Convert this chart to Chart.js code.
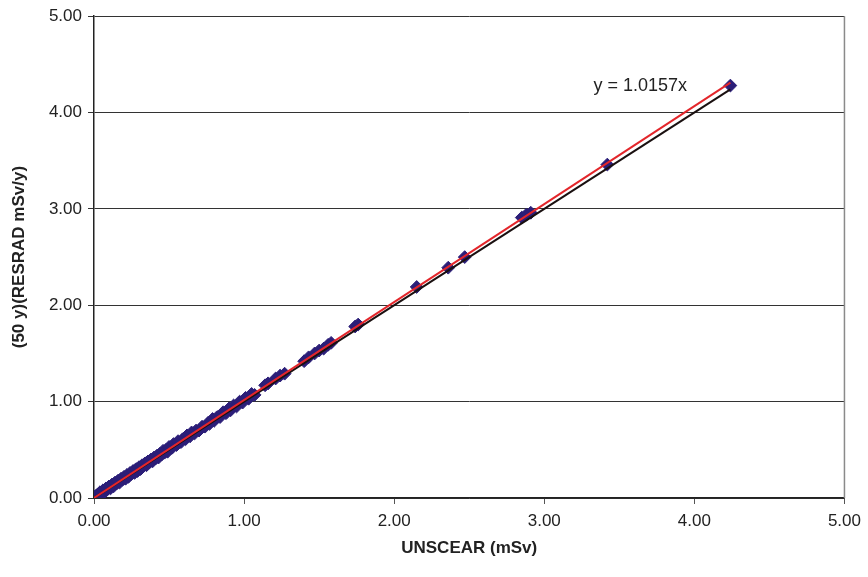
<!DOCTYPE html>
<html>
<head>
<meta charset="utf-8">
<script src="https://cdn.jsdelivr.net/npm/chart.js@4.4.0/dist/chart.umd.min.js"></script>
<style>
html,body{margin:0;padding:0;background:#fff;}
#wrap{width:868px;height:577px;}
</style>
</head>
<body>
<div id="wrap"><canvas id="c" width="868" height="577"></canvas></div>
<script>
// Scatter data (UNSCEAR vs RESRAD)
const unscear = [0.00,0.01,0.01,0.02,0.02,0.03,0.04,0.04,0.05,0.06,0.07,0.08,0.09,0.10,0.11,0.12,0.13,0.14,0.15,0.16,0.17,0.18,0.19,0.20,0.21,0.22,0.23,0.24,0.25,0.26,0.27,0.28,0.29,0.30,0.31,0.32,0.33,0.34,0.35,0.36,0.37,0.38,0.39,0.40,0.41,0.42,0.43,0.44,0.45,0.46,0.47,0.48,0.49,0.50,0.52,0.53,0.55,0.56,0.58,0.59,0.61,0.62,0.64,0.65,0.67,0.68,0.70,0.72,0.74,0.76,0.77,0.79,0.80,0.82,0.84,0.86,0.88,0.90,0.91,0.93,0.95,0.97,0.99,1.01,1.03,1.05,1.07,1.14,1.16,1.21,1.24,1.27,1.40,1.43,1.47,1.50,1.53,1.56,1.58,1.74,1.76,2.15,2.36,2.47,2.85,2.88,2.91,3.42,4.24];
const resrad  = [0.00,0.02,0.00,0.03,0.01,0.04,0.03,0.06,0.05,0.08,0.06,0.10,0.09,0.12,0.10,0.14,0.12,0.16,0.15,0.18,0.16,0.20,0.19,0.22,0.20,0.24,0.22,0.26,0.25,0.28,0.26,0.30,0.28,0.32,0.30,0.34,0.33,0.36,0.34,0.38,0.37,0.40,0.38,0.42,0.41,0.44,0.42,0.46,0.45,0.49,0.47,0.50,0.48,0.53,0.52,0.56,0.55,0.59,0.58,0.61,0.61,0.65,0.64,0.68,0.67,0.70,0.70,0.74,0.74,0.78,0.77,0.82,0.80,0.84,0.84,0.89,0.88,0.93,0.91,0.96,0.95,1.00,0.99,1.04,1.03,1.08,1.07,1.17,1.19,1.24,1.27,1.29,1.42,1.46,1.50,1.53,1.55,1.59,1.61,1.78,1.80,2.19,2.39,2.50,2.91,2.94,2.96,3.46,4.28];
// Trend line y = 1.0157x (end points)
const trendX = [0, 4.24];
const trendY = [0, 4.31];
// 1:1 line (end points)
const unityX = [0, 4.24];
const unityY = [0, 4.24];
// Axis ticks
const tickValues = [0, 1, 2, 3, 4, 5];
const equationLabel = 'y = 1.0157x';
const xTitle = 'UNSCEAR (mSv)';
const yTitle = '(50 y)(RESRAD mSv/y)';

const pts = unscear.map((x, i) => ({x: x, y: resrad[i]}));
const trend = trendX.map((x, i) => ({x: x, y: trendY[i]}));
const unity = unityX.map((x, i) => ({x: x, y: unityY[i]}));

const FONT = 'Liberation Sans, Arial, sans-serif';

const extras = {
  id: 'extras',
  afterDraw(chart) {
    const ctx = chart.ctx, a = chart.chartArea;
    const xs = chart.scales.x, ys = chart.scales.y;
    ctx.save();
    // right border
    ctx.strokeStyle = '#8a8a8a';
    ctx.lineWidth = 1.5;
    ctx.beginPath();
    ctx.moveTo(a.right, a.top);
    ctx.lineTo(a.right, a.bottom);
    ctx.stroke();
    // equation label
    ctx.fillStyle = '#222';
    ctx.font = '18px ' + FONT;
    ctx.textAlign = 'center';
    ctx.textBaseline = 'middle';
    ctx.fillText(equationLabel, xs.getPixelForValue(3.64), ys.getPixelForValue(4.28));
    ctx.restore();
  }
};

new Chart(document.getElementById('c'), {
  type: 'scatter',
  data: {
    datasets: [
      {
        type: 'line', data: trend, borderColor: '#e3262b', borderWidth: 2,
        pointRadius: 0, fill: false, order: 1
      },
      {
        type: 'line', data: unity, borderColor: '#1a1010', borderWidth: 2,
        pointRadius: 0, fill: false, order: 2
      },
      {
        data: pts, pointStyle: 'rectRot', pointRadius: 6.4,
        backgroundColor: '#2b1e78', borderColor: '#2b1e78', borderWidth: 1, order: 3
      }
    ]
  },
  options: {
    responsive: false,
    animation: false,
    events: [],
    layout: {padding: {left: 0, right: 23, top: 13, bottom: 18}},
    plugins: {legend: {display: false}, tooltip: {enabled: false}},
    scales: {
      x: {
        type: 'linear', min: 0, max: 5,
        afterBuildTicks(s) { s.ticks = tickValues.map(v => ({value: v})); },
        afterFit(s) { s.height = 61; },
        border: {display: true, color: '#222', width: 1.5},
        grid: {drawOnChartArea: false, drawTicks: true, tickLength: 6, color: '#555'},
        ticks: {
          color: '#222', font: {family: FONT, size: 17}, padding: 7, maxRotation: 0,
          callback: v => v.toFixed(2)
        },
        title: {
          display: true, text: xTitle, color: '#222',
          font: {family: FONT, size: 17, weight: 'bold'}, padding: {top: 8, bottom: 0}
        }
      },
      y: {
        type: 'linear', min: 0, max: 5,
        afterBuildTicks(s) { s.ticks = tickValues.map(v => ({value: v})); },
        afterFit(s) { s.width = 94; },
        border: {display: true, color: '#222', width: 1.5},
        grid: {drawOnChartArea: true, drawTicks: true, tickLength: 6, color: '#333', lineWidth: 1},
        ticks: {
          color: '#222', font: {family: FONT, size: 17}, padding: 6,
          callback: v => v.toFixed(2)
        },
        title: {
          display: true, text: yTitle, color: '#222',
          font: {family: FONT, size: 17, weight: 'bold'}, padding: {top: 9, bottom: 0}
        }
      }
    }
  },
  plugins: [extras]
});
</script>
</body>
</html>
